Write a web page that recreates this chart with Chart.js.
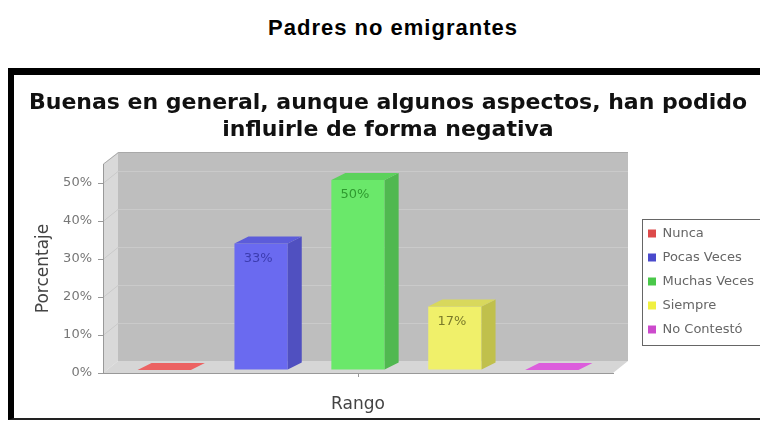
<!DOCTYPE html>
<html>
<head>
<meta charset="utf-8">
<script src="https://cdn.jsdelivr.net/npm/chart.js@4"></script>
<style>
  html, body { margin: 0; padding: 0; background: #fff; width: 760px; height: 422px; overflow: hidden; }
  #titulo {
    position: absolute; left: 0; top: 15px; width: 786px; text-align: center;
    font: bold 22px "Liberation Sans", Arial, sans-serif; line-height: 25px; letter-spacing: 1px; color: #000;
  }
  #marco {
    position: absolute; left: 8px; top: 68px; width: 760px; height: 343px;
    border-left: 6px solid #000; border-top: 7px solid #000; border-bottom: 2px solid #222;
    overflow: hidden; background: #fff;
  }
  #marco canvas { display: block; }
</style>
</head>
<body>
<div id="titulo">Padres no emigrantes</div>
<div id="marco"><canvas id="grafico" width="748" height="343"></canvas></div>
<script>
const categorias = ['Nunca', 'Pocas Veces', 'Muchas Veces', 'Siempre', 'No Contestó'];
const porcentajes = [0, 33.3, 50, 16.7, 0];
const marcasY = [0, 10, 20, 30, 40, 50];

// colores: cara frontal, tapa, lateral, texto del valor, cuadro de la leyenda
const colFrente = ['#f06a6a', '#6a6af0', '#6ae86a', '#f0f06a', '#e86ae8'];
const colTapa = ['#ec6262', '#5c5cda', '#5cd25c', '#d8d85c', '#dc5edc'];
const colLado = ['#c85050', '#5050c0', '#50b850', '#c0c04c', '#c050c0'];
const colTexto = ['#c04040', '#3c3cb0', '#2f9a2f', '#7a7a2a', '#a040a0'];
const colLeyenda = ['#dd4a4a', '#4a4acc', '#4ac84a', '#f0f040', '#cc4acc'];

const FUENTE = 'DejaVu Sans';
const PARED_X = 15, PARED_Y = 12;   // fondo 3D del área
const BARRA_X = 14, BARRA_Y = 7;    // profundidad de las barras
const BARRA_SUBE = 3;               // las barras quedan un poco dentro de la caja
const ANCHO_LEYENDA = 149;

function poly(ctx, pts, color) {
  ctx.fillStyle = color;
  ctx.beginPath();
  ctx.moveTo(pts[0][0], pts[0][1]);
  for (let k = 1; k < pts.length; k++) ctx.lineTo(pts[k][0], pts[k][1]);
  ctx.closePath();
  ctx.fill();
}

const efecto3d = {
  id: 'efecto3d',
  beforeLayout(chart) {
    // ancho fijo para la leyenda, así el área acaba donde en el original
    const lg = chart.legend;
    if (lg && !lg._anchoFijo) {
      const fit = lg.fit.bind(lg);
      lg.fit = function () { fit(); this.width = ANCHO_LEYENDA; };
      lg._anchoFijo = true;
    }
  },
  afterLayout(chart) {
    // leyenda separada del área y algo más abajo
    const lg = chart.legend;
    const dx = chart.chartArea.right + 24 - lg.left;
    lg.left += dx; lg.right += dx;
    lg.top += 35; lg.bottom += 35;
  },
  beforeDraw(chart) {
    const {ctx, chartArea: a, scales: {y}} = chart;
    ctx.save();
    // pared izquierda
    poly(ctx, [[a.left, a.top], [a.left + PARED_X, a.top - PARED_Y], [a.left + PARED_X, a.bottom - PARED_Y], [a.left, a.bottom]], '#d9d9d9');
    // suelo
    poly(ctx, [[a.left, a.bottom], [a.left + PARED_X, a.bottom - PARED_Y], [a.right + PARED_X, a.bottom - PARED_Y], [a.right, a.bottom]], '#d6d6d6');
    // pared del fondo
    ctx.fillStyle = '#bebebe';
    ctx.fillRect(a.left + PARED_X, a.top - PARED_Y, a.right - a.left, a.bottom - a.top);
    // líneas de rejilla
    ctx.strokeStyle = '#cacaca';
    ctx.lineWidth = 1;
    marcasY.forEach(v => {
      if (v === 0) return;
      const py = Math.round(y.getPixelForValue(v)) + 0.5;
      ctx.beginPath();
      ctx.moveTo(a.left, py);
      ctx.lineTo(a.left + PARED_X, py - PARED_Y);
      ctx.lineTo(a.right + PARED_X, py - PARED_Y);
      ctx.stroke();
    });
    // bordes
    ctx.strokeStyle = '#a9a9a9';
    ctx.beginPath();
    ctx.moveTo(a.left + 0.5, a.top);
    ctx.lineTo(a.left + PARED_X + 0.5, a.top - PARED_Y + 0.5);
    ctx.lineTo(a.right + PARED_X, a.top - PARED_Y + 0.5);
    ctx.stroke();
    ctx.restore();
  },
  beforeDatasetsDraw(chart) {
    chart.ctx.save();
    chart.ctx.translate(0, -BARRA_SUBE);
  },
  afterDatasetsDraw(chart) {
    const ctx = chart.ctx;
    chart.data.datasets.forEach((ds, i) => {
      const meta = chart.getDatasetMeta(i);
      meta.data.forEach((bar, j) => {
        const {x, y, base, width} = bar.getProps(['x', 'y', 'base', 'width'], true);
        const l = x - width / 2, r = x + width / 2;
        if (base - y > 0.5) {
          poly(ctx, [[r, y], [r + BARRA_X, y - BARRA_Y], [r + BARRA_X, base - BARRA_Y], [r, base]], colLado[i]);
        }
        poly(ctx, [[l, y], [l + BARRA_X, y - BARRA_Y], [r + BARRA_X, y - BARRA_Y], [r, y]], colTapa[i]);
        const v = ds.data[j];
        if (v > 0) {
          ctx.font = '13px "' + FUENTE + '"';
          ctx.fillStyle = colTexto[i];
          ctx.textAlign = 'center';
          ctx.textBaseline = 'middle';
          ctx.fillText(Math.round(v) + '%', x - 3, y + 15);
        }
      });
    });
    ctx.restore();
  },
  afterDraw(chart) {
    const ctx = chart.ctx;
    const hb = chart.legend.legendHitBoxes;
    if (!hb || !hb.length) return;
    const last = hb[hb.length - 1];
    const x0 = Math.round(hb[0].left - 6) + 0.5;
    const y0 = Math.round(hb[0].top - 8) + 0.5;
    const y1 = Math.round(last.top + last.height + 9) + 0.5;
    ctx.save();
    ctx.strokeStyle = '#666';
    ctx.lineWidth = 1;
    ctx.strokeRect(x0, y0, chart.width, y1 - y0);
    ctx.restore();
  }
};

new Chart(document.getElementById('grafico'), {
  type: 'bar',
  data: {
    labels: ['Rango'],
    datasets: categorias.map((c, i) => ({
      label: c,
      data: [porcentajes[i]],
      backgroundColor: colFrente[i],
      borderWidth: 0,
      categoryPercentage: 0.95,
      barPercentage: 0.55
    }))
  },
  options: {
    responsive: false,
    animation: false,
    layout: { padding: 0 },
    plugins: {
      tooltip: { enabled: false },
      title: {
        display: true,
        text: ['Buenas en general, aunque algunos aspectos, han podido', 'influirle de forma negativa'],
        color: '#111',
        font: { family: FUENTE, size: 22, weight: 'bold', lineHeight: 1.2273 },
        padding: { top: 14.5, bottom: 20.5 }
      },
      legend: {
        position: 'right',
        labels: {
          boxWidth: 8,
          boxHeight: 8,
          padding: 11,
          color: '#666',
          font: { family: FUENTE, size: 13 },
          generateLabels: chart => Chart.defaults.plugins.legend.labels.generateLabels(chart)
            .map((it, i) => ({ ...it, fillStyle: colLeyenda[i], strokeStyle: colLeyenda[i], lineWidth: 0 }))
        }
      }
    },
    scales: {
      x: {
        ticks: { display: false },
        grid: { offset: false, drawOnChartArea: false, tickLength: 4, color: '#999' },
        border: { color: '#999' },
        afterFit: s => { s.height = 45; },
        title: {
          display: true, text: 'Rango', color: '#444',
          font: { family: FUENTE, size: 17 }, padding: { top: 4, bottom: 3 }
        }
      },
      y: {
        min: 0,
        max: 55,
        afterBuildTicks: s => { s.ticks = marcasY.map(v => ({ value: v })); },
        afterFit: s => { s.width = 89; },
        ticks: { callback: v => v + '%', color: '#777', font: { family: FUENTE, size: 13 }, padding: 6 },
        grid: { drawOnChartArea: false, tickLength: 5, color: '#999' },
        border: { color: '#999' },
        title: {
          display: true, text: 'Porcentaje', color: '#444',
          font: { family: FUENTE, size: 17 }, padding: { top: 19, bottom: 0 }
        }
      }
    }
  },
  plugins: [efecto3d]
});
</script>
</body>
</html>
